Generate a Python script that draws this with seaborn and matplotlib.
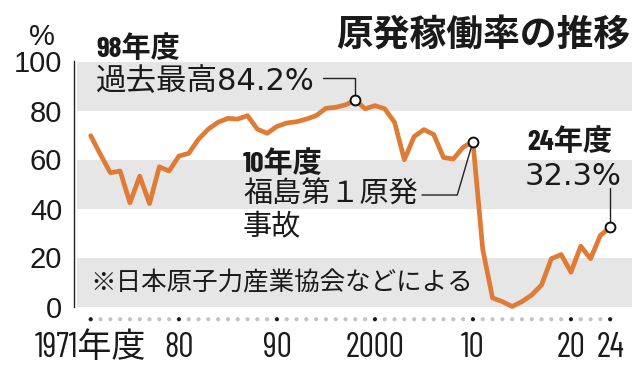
import numpy as np
import pandas as pd
import matplotlib
matplotlib.use('Agg')
import matplotlib.pyplot as plt
import seaborn as sns

# Data (capacity factor of nuclear plants, by fiscal year, %)
years = list(range(1971, 2025))
rate = [69.7, 62.0, 54.6, 55.3, 42.3, 53.2, 42.0, 57.0, 55.3, 61.4,
        62.5, 68.3, 72.4, 75.2, 76.8, 76.5, 77.9, 72.4, 70.7, 73.5,
        74.9, 75.4, 76.5, 77.9, 80.9, 81.3, 82.3, 84.2, 80.7, 82.0,
        80.7, 75.2, 59.9, 69.4, 72.2, 70.2, 60.8, 60.2, 65.0, 67.3,
        23.3, 3.5, 2.0, 0.0, 2.0, 4.7, 8.8, 19.5, 21.2, 14.0,
        24.6, 19.5, 29.0, 32.3]
tick_years = [1971, 1980, 1990, 2000, 2010, 2020, 2024]
tick_labels = ['1971年度', '80', '90', '2000', '10', '20', '24']
y_ticks = [0, 20, 40, 60, 80, 100]
marked_years = [1998, 2010, 2024]

df = pd.DataFrame({'year': years, 'rate': rate})

sns.set_style('white')
plt.rcParams['font.family'] = ['DejaVu Sans', 'Noto Sans CJK JP']

ORANGE = '#e07b36'
BAND = '#e6e6e6'
INK = '#1a1a1a'
NARROW = ['Barlow Condensed', 'Noto Sans CJK JP']
REG = ['DejaVu Sans', 'Noto Sans CJK JP']
CJK = ['Noto Sans CJK JP']

fig = plt.figure(figsize=(6.4, 3.72), dpi=100)
ax = fig.add_axes([77 / 640, 1 - 306.5 / 372, 555 / 640, 245 / 372])

# gray bands
for lo in [0, 40, 80]:
    ax.axhspan(lo, lo + 20, color=BAND, zorder=0, lw=0)

sns.lineplot(data=df, x='year', y='rate', color=ORANGE, lw=3.4, ax=ax,
             zorder=3, clip_on=False)

ax.set_xlim(1969.6, 2026.23)
ax.set_ylim(0, 100)
ax.set_xlabel('')
ax.set_ylabel('')
for s in ['top', 'right', 'bottom']:
    ax.spines[s].set_visible(False)
ax.spines['left'].set_position(('outward', 2.2))
ax.spines['left'].set_bounds(0, 100)
ax.spines['left'].set_color('#222')
ax.spines['left'].set_linewidth(1)
ax.set_xticks([])
ax.set_yticks(y_ticks)
ax.set_yticklabels([str(v) for v in y_ticks])
ax.tick_params(axis='y', direction='out', length=5, width=1, pad=3.5,
               color='#222', labelsize=21, labelcolor=INK)
for lab in ax.get_yticklabels():
    lab.set_family('Liberation Sans')

# dotted year row
dot_colors = [INK if y in tick_years else '#c4c4c4' for y in years]
ax.scatter(years, [-5.2] * len(years), s=9, c=dot_colors, clip_on=False, lw=0)
for y, lab in zip(tick_years, tick_labels):
    ax.text(y, -20.6, lab, ha='center', va='baseline', fontsize=24.5,
            family=NARROW, color=INK)

# leader lines
ax.plot([1998, 1998, 1994.7], [84.2, 93.1, 93.1], color='#222', lw=1, zorder=4)
ax.plot([2010, 2008.4, 2004.8], [67.3, 45.5, 45.5], color='#222', lw=1, zorder=4)
ax.plot([2024, 2024], [32.3, 48.4], color='#222', lw=1, zorder=4)

mk = df[df['year'].isin(marked_years)]
ax.scatter(mk['year'], mk['rate'], s=50, facecolor='white', edgecolor='#111',
           lw=1.4, zorder=5, clip_on=False)


def px(x, y):
    return (x / 640, 1 - y / 372)


T = fig.transFigure
fig.text(*px(630, 46), '原発稼働率の推移', transform=T, ha='right', va='baseline',
         fontsize=26.5, fontweight='bold', family=CJK, color=INK)
fig.text(*px(42, 45), '%', transform=T, ha='center', va='baseline',
         fontsize=21, family='Liberation Sans', color=INK)

fig.text(*px(96, 57), '98年度', transform=T, va='baseline', fontsize=21,
         fontweight='bold', family=NARROW, color=INK)
fig.text(*px(96, 90), '過去最高84.2%', transform=T, va='baseline', fontsize=22,
         family=REG, color=INK)

fig.text(*px(243, 172), '10年度', transform=T, va='baseline', fontsize=21,
         fontweight='bold', family=NARROW, color=INK)
fig.text(*px(243, 203), '福島第１原発', transform=T, va='baseline', fontsize=21,
         family=CJK, color=INK)
fig.text(*px(243, 235), '事故', transform=T, va='baseline', fontsize=21,
         family=CJK, color=INK)

fig.text(*px(527, 150), '24年度', transform=T, va='baseline', fontsize=21,
         fontweight='bold', family=NARROW, color=INK)
fig.text(*px(525, 185), '32.3%', transform=T, va='baseline', fontsize=22,
         family=REG, color=INK)

fig.text(*px(90, 290), '※日本原子力産業協会などによる', transform=T, va='baseline',
         fontsize=18.4, family=CJK, color=INK)

fig.savefig('out.png', dpi=100, facecolor='white')
